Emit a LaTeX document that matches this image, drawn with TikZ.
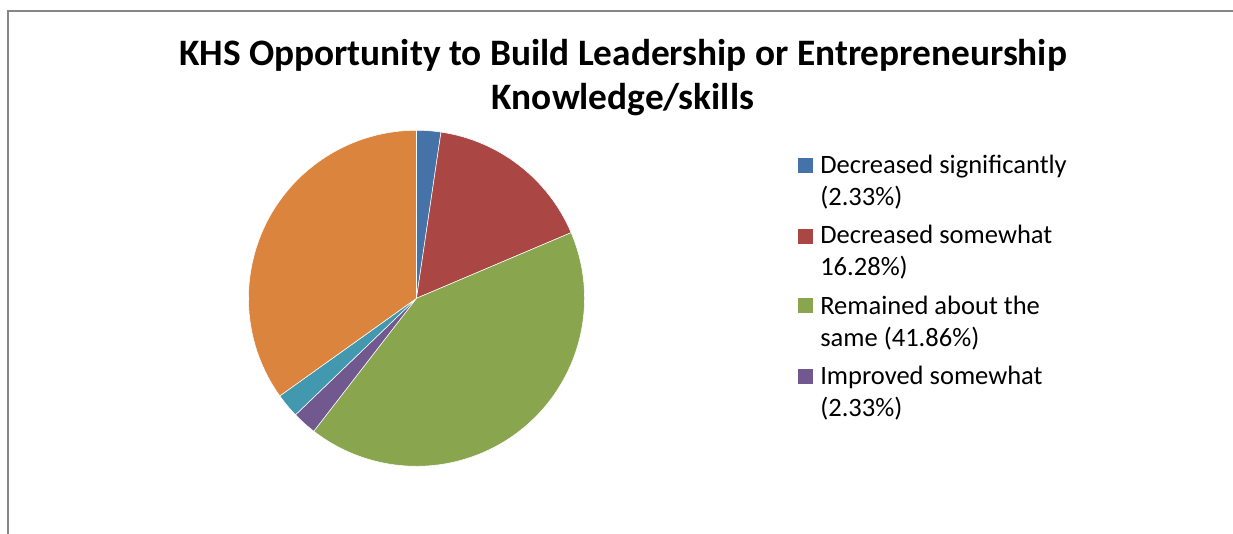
\documentclass[tikz,border=0pt]{standalone}
\usepackage{fontspec}
\setmainfont{Carlito}
\definecolor{cblue}{HTML}{4572A7}
\definecolor{cred}{HTML}{AA4643}
\definecolor{cgreen}{HTML}{89A54E}
\definecolor{cpurple}{HTML}{71588F}
\definecolor{cteal}{HTML}{4198AF}
\definecolor{corange}{HTML}{DB843D}
\definecolor{frame}{HTML}{868686}
\begin{document}
\begin{tikzpicture}[x=0.75pt,y=0.75pt,
slice/.style={draw=white,line width=0.4pt},
legsq/.style={minimum size=11.25pt,inner sep=0pt},
legtext/.style={anchor=base west,inner sep=0pt,align=left,font=\fontsize{19.9}{24}\selectfont}]
\useasboundingbox (0,0) rectangle (1233,534);
\draw[frame,line width=1.1pt](8,0)--(8,523)--(1233,523);
\node[align=center,inner sep=0pt,anchor=base,font=\bfseries\fontsize{28}{33}\selectfont]
(title)at(623,424){KHS Opportunity to Build Leadership or Entrepreneurship\\Knowledge/skills};
\coordinate (c) at (416.5,235.7);
\fill[cblue,slice](c)--++(90:168) arc (90:81.612:168)--cycle;
\fill[cred,slice](c)--++(81.612:168) arc (81.612:23.004:168)--cycle;
\fill[cgreen,slice](c)--++(23.004:168) arc (23.004:-127.692:168)--cycle;
\fill[cpurple,slice](c)--++(-127.692:168) arc (-127.692:-136.08:168)--cycle;
\fill[cteal,slice](c)--++(-136.08:168) arc (-136.08:-144.468:168)--cycle;
\fill[corange,slice](c)--++(-144.468:168) arc (-144.468:-270:168)--cycle;
\node[legsq,fill=cblue](s1)at(805.5,368){};
\node[legtext](l1)at(820,328.7){Decreased significantly\\(2.33\%)};
\node[legsq,fill=cred](s2)at(805.5,297){};
\node[legtext](l2)at(820,258){Decreased somewhat\\16.28\%)};
\node[legsq,fill=cgreen](s3)at(805.5,228){};
\node[legtext](l3)at(820,187){Remained about the\\same (41.86\%)};
\node[legsq,fill=cpurple](s4)at(805.5,157){};
\node[legtext](l4)at(820,117){Improved somewhat\\(2.33\%)};
\end{tikzpicture}
\end{document}
